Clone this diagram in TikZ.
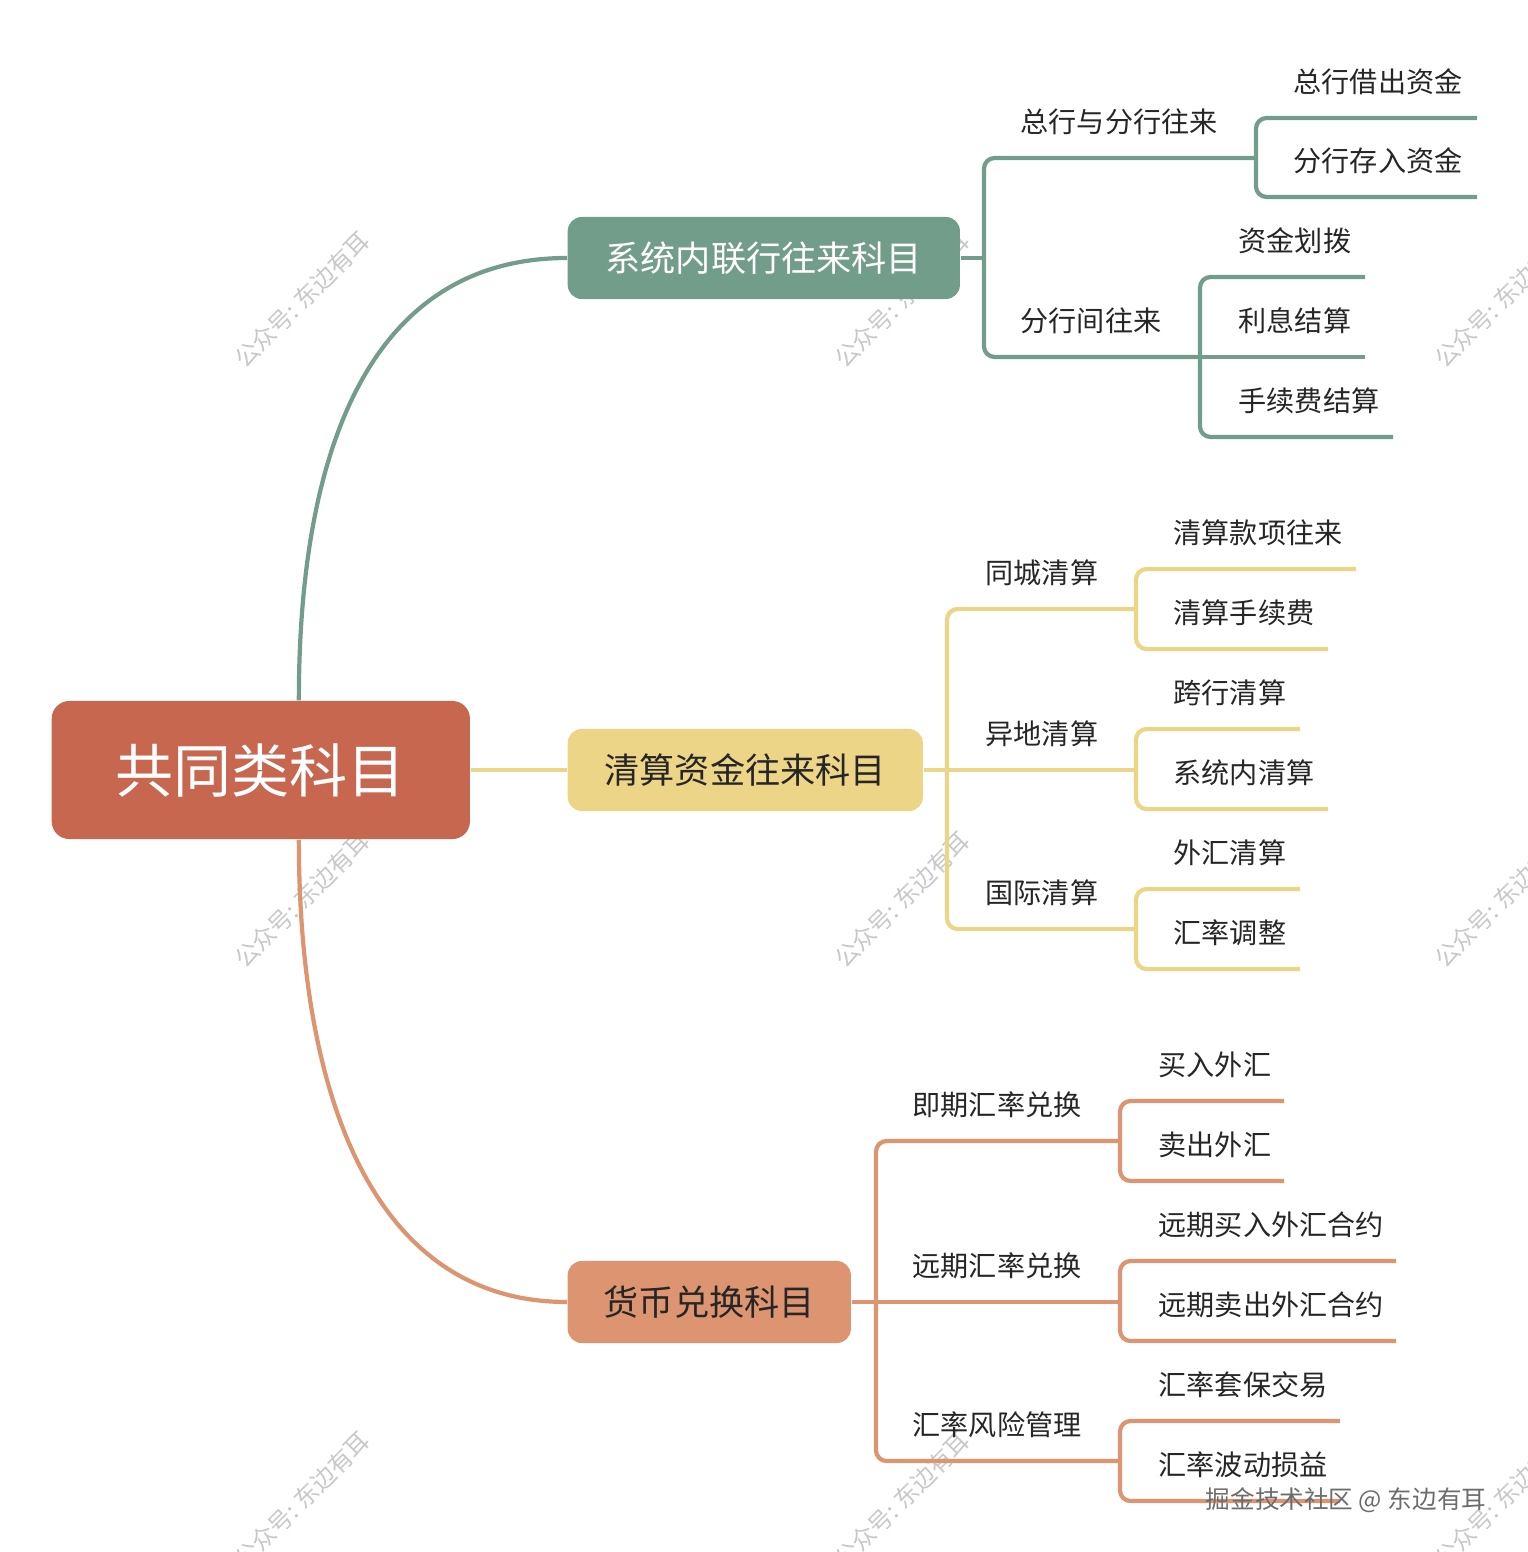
\documentclass[tikz,border=0pt]{standalone}
\usepackage{fontspec}
\setmainfont{Noto Sans CJK SC}
\definecolor{rootred}{RGB}{199,103,80}
\definecolor{sysgreen}{RGB}{115,157,139}
\definecolor{clryellow}{RGB}{237,213,135}
\definecolor{fxorange}{RGB}{221,149,113}
\definecolor{ink}{RGB}{38,38,38}
\definecolor{wmgray}{RGB}{200,200,200}
\begin{document}
\begin{tikzpicture}[x=0.01cm, y=-0.01cm,
    topic/.style={rounded corners=4pt, anchor=west, inner sep=0, minimum height=0.82cm, font=\fontsize{10pt}{12pt}\selectfont},
    subtopic/.style={anchor=west, inner sep=0, text=ink, font=\fontsize{8pt}{9.6pt}\selectfont},
    wmark/.style={rotate=45, inner sep=0, text=wmgray, font=\fontsize{6.8pt}{8pt}\selectfont},
    sysline/.style={draw=sysgreen, line width=1.2pt, rounded corners=3pt},
    clrline/.style={draw=clryellow, line width=1.2pt, rounded corners=3pt},
    fxline/.style={draw=fxorange, line width=1.2pt, rounded corners=3pt}]
\useasboundingbox (0,0) rectangle (1527,1552);
% watermarks
\node[wmark] (wm1) at (302,300) {公众号:\ 东边有耳};
\node[wmark] (wm2) at (902,300) {公众号:\ 东边有耳};
\node[wmark] (wm3) at (1502,300) {公众号:\ 东边有耳};
\node[wmark] (wm4) at (302,900) {公众号:\ 东边有耳};
\node[wmark] (wm5) at (902,900) {公众号:\ 东边有耳};
\node[wmark] (wm6) at (1502,900) {公众号:\ 东边有耳};
\node[wmark] (wm7) at (302,1500) {公众号:\ 东边有耳};
\node[wmark] (wm8) at (902,1500) {公众号:\ 东边有耳};
\node[wmark] (wm9) at (1502,1500) {公众号:\ 东边有耳};
% root
\node[topic, fill=rootred, text=white, minimum width=4.18cm, minimum height=1.38cm, rounded corners=5pt,
      font=\fontsize{16.5pt}{19pt}\selectfont] (root) at (51,770) {共同类科目};
% main topics
\node[topic, fill=sysgreen, text=white, minimum width=3.92cm] (sys) at (567,258) {系统内联行往来科目};
\node[topic, fill=clryellow, text=ink, minimum width=3.55cm] (clr) at (567,770) {清算资金往来科目};
\node[topic, fill=fxorange, text=ink, minimum width=2.83cm] (fx) at (567,1302) {货币兑换科目};
% root to main topics
\draw[sysline] ([xshift=0.38cm]root.north) .. controls +(0,-260) and +(-192,0) .. (sys.west);
\draw[clrline] (root.east) -- (clr.west);
\draw[fxline] ([xshift=0.38cm]root.south) .. controls +(0,260) and +(-192,0) .. (fx.west);

% 1st branch
\coordinate (s0) at (984,258);
\coordinate (s1) at (1256,158);
\coordinate (s2) at (1200,357);
\coordinate (s11) at (1477,118);
\coordinate (s12) at (1477,197);
\coordinate (s21) at (1365,277);
\coordinate (s22) at (1365,357);
\coordinate (s23) at (1393,437);
\draw[sysline] (sys.east) -- (s0);
\draw[sysline] (s0) |- (s1);
\draw[sysline] (s0) |- (s2);
\draw[sysline] (s1) |- (s11);
\draw[sysline] (s1) |- (s12);
\draw[sysline] (s2) |- (s21);
\draw[sysline] (s2) -- (s22);
\draw[sysline] (s2) |- (s23);
\node[subtopic] (t1) at (1020,122) {总行与分行往来};
\node[subtopic] (t2) at (1020,321) {分行间往来};
\node[subtopic] (t11) at (1293,82) {总行借出资金};
\node[subtopic] (t12) at (1293,161) {分行存入资金};
\node[subtopic] (t21) at (1238,241) {资金划拨};
\node[subtopic] (t22) at (1238,321) {利息结算};
\node[subtopic] (t23) at (1238,401) {手续费结算};

% 2nd branch
\coordinate (c0) at (947,770);
\coordinate (c1) at (1136,609);
\coordinate (c2) at (1136,770);
\coordinate (c3) at (1136,929);
\coordinate (c11) at (1356,569);
\coordinate (c12) at (1328,649);
\coordinate (c21) at (1300,729);
\coordinate (c22) at (1328,809);
\coordinate (c31) at (1300,889);
\coordinate (c32) at (1300,969);
\draw[clrline] (clr.east) -- (c2);
\draw[clrline] (c0) |- (c1);
\draw[clrline] (c0) |- (c3);
\draw[clrline] (c1) |- (c11);
\draw[clrline] (c1) |- (c12);
\draw[clrline] (c2) |- (c21);
\draw[clrline] (c2) |- (c22);
\draw[clrline] (c3) |- (c31);
\draw[clrline] (c3) |- (c32);
\node[subtopic] (u1) at (985,573) {同城清算};
\node[subtopic] (u2) at (985,734) {异地清算};
\node[subtopic] (u3) at (985,893) {国际清算};
\node[subtopic] (u11) at (1173,533) {清算款项往来};
\node[subtopic] (u12) at (1173,613) {清算手续费};
\node[subtopic] (u21) at (1173,693) {跨行清算};
\node[subtopic] (u22) at (1173,773) {系统内清算};
\node[subtopic] (u31) at (1173,853) {外汇清算};
\node[subtopic] (u32) at (1173,933) {汇率调整};

% 3rd branch
\coordinate (f0) at (876,1302);
\coordinate (f1) at (1120,1141);
\coordinate (f2) at (1120,1302);
\coordinate (f3) at (1120,1461);
\coordinate (f11) at (1284,1101);
\coordinate (f12) at (1284,1181);
\coordinate (f21) at (1396,1261);
\coordinate (f22) at (1396,1341);
\coordinate (f31) at (1340,1421);
\coordinate (f32) at (1340,1501);
\draw[fxline] (fx.east) -- (f2);
\draw[fxline] (f0) |- (f1);
\draw[fxline] (f0) |- (f3);
\draw[fxline] (f1) |- (f11);
\draw[fxline] (f1) |- (f12);
\draw[fxline] (f2) |- (f21);
\draw[fxline] (f2) |- (f22);
\draw[fxline] (f3) |- (f31);
\draw[fxline] (f3) |- (f32);
\node[subtopic] (v1) at (912,1105) {即期汇率兑换};
\node[subtopic] (v2) at (912,1266) {远期汇率兑换};
\node[subtopic] (v3) at (912,1425) {汇率风险管理};
\node[subtopic] (v11) at (1158,1065) {买入外汇};
\node[subtopic] (v12) at (1158,1145) {卖出外汇};
\node[subtopic] (v21) at (1158,1225) {远期买入外汇合约};
\node[subtopic] (v22) at (1158,1305) {远期卖出外汇合约};
\node[subtopic] (v31) at (1158,1385) {汇率套保交易};
\node[subtopic] (v32) at (1158,1465) {汇率波动损益};

% site mark
\node[inner sep=0, text=gray!85!black, font=\fontsize{7pt}{8pt}\selectfont] (site) at (1346,1500) {掘金技术社区 @ 东边有耳};
\end{tikzpicture}
\end{document}
